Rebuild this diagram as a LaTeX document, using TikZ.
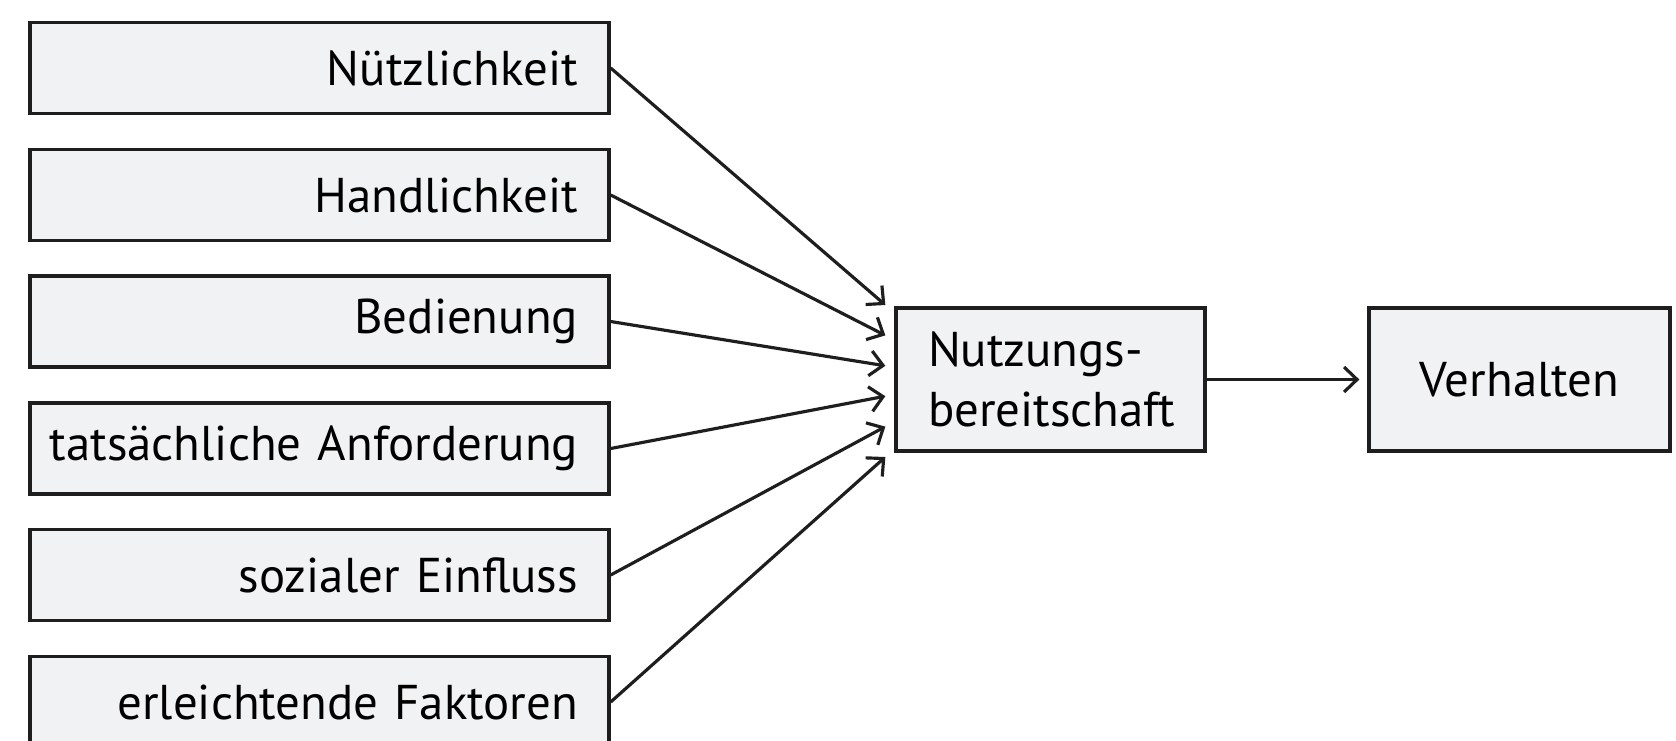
\documentclass[tikz,border=0pt]{standalone}
\usepackage{fontspec}
\setmainfont{PT Sans}
\usetikzlibrary{arrows.meta}
\definecolor{kastengrau}{HTML}{F1F2F4}
\definecolor{randgrau}{HTML}{1E1E1E}

\begin{document}
\begin{tikzpicture}[
		kasten/.style={draw=randgrau, fill=kastengrau, line width=1.9pt, inner sep=0pt,
			font=\fontsize{27.8}{34}\selectfont},
		faktor/.style={kasten, minimum width=11.58cm, minimum height=1.82cm,
			text width=11.2cm, align=right, execute at end node={\hspace*{0.43cm}}},
		pfeil/.style={draw=randgrau, line width=1.8pt, -{Straight Barb[length=0.26cm,width=0.5cm]}}
	]
	\useasboundingbox (0,0) rectangle (33.52,-14.8);
	%%%% Einflussfaktoren
	\node[faktor] (f1) at (6.39,-1.36) {Nützlichkeit};
	\node[faktor] (f2) at (6.39,-3.90) {Handlichkeit};
	\node[faktor] (f3) at (6.39,-6.43) {Bedienung};
	\node[faktor] (f4) at (6.39,-8.97) {tatsächliche Anforderung};
	\node[faktor] (f5) at (6.39,-11.50) {sozialer Einfluss};
	\node[faktor] (f6) at (6.39,-14.04) {erleichtende Faktoren};
	%%%% Nutzungsbereitschaft und Verhalten
	\node[kasten, minimum width=6.18cm, minimum height=2.86cm, text width=4.9cm, align=left]
		(nutz) at (21.01,-7.59) {Nutzungs-\\bereitschaft};
	\node[kasten, minimum width=6.02cm, minimum height=2.86cm]
		(verh) at (30.39,-7.59) {Verhalten};
	% Pfeilenden links am Kasten
	\foreach \i/\dy in {1/1.49,2/0.882,3/0.274,4/-0.334,5/-0.942,6/-1.55} {
		\coordinate (e\i) at ([xshift=-0.18cm,yshift=\dy cm]nutz.west);
		\draw[pfeil] (f\i.east) -- (e\i);
	}
	% Pfeil
	\draw[pfeil] (nutz.east) -- ([xshift=-0.16cm]verh.west);
\end{tikzpicture}
\end{document}
